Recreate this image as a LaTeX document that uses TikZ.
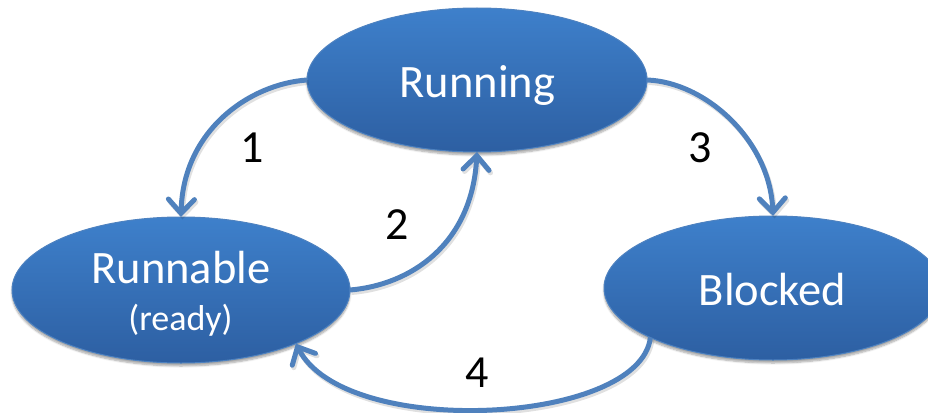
\documentclass[tikz,border=0pt]{standalone}
\usepackage{fontspec}
\setmainfont{Carlito}
\usetikzlibrary{arrows.meta,shapes.geometric,shadows.blur}

\definecolor{statetop}{RGB}{62,128,203}
\definecolor{statebot}{RGB}{45,95,162}
\definecolor{stateedge}{RGB}{78,130,192}
\definecolor{flow}{RGB}{79,129,189}

\tikzset{
  state/.style={ellipse, inner sep=0pt, outer sep=0pt,
    top color=statetop, bottom color=statebot, draw=stateedge, line width=1pt,
    blur shadow={shadow xshift=0pt, shadow yshift=-3pt, shadow blur steps=6, shadow opacity=35}},
  statetext/.style={anchor=base, text=white, font=\fontsize{46.5}{50}\selectfont},
  subtext/.style={anchor=base, text=white, font=\fontsize{36}{40}\selectfont},
  steplabel/.style={anchor=base, text=black, font=\fontsize{46}{50}\selectfont},
  transition/.style={draw=flow, line width=5pt,
    -{Straight Barb[length=14pt, width=26pt, line cap=round]},
    preaction={draw=black, opacity=0.12, line width=5pt,
      transform canvas={shift={(1.5pt,-2.5pt)}}}}
}

\begin{document}
\begin{tikzpicture}[x=1pt, y=-1pt]
  \useasboundingbox (0,0) rectangle (928,412);
  \clip (0,0) rectangle (928,412);

  % states
  \node[state, minimum width=340pt, minimum height=144pt] (running) at (477,80) {};
  \node[state, minimum width=338pt, minimum height=146pt] (runnable) at (181,290) {};
  \node[state, minimum width=338pt, minimum height=144pt] (blocked) at (773,288) {};

  % state names
  \node[statetext] (runningtxt) at (477.5,97) {Running};
  \node[statetext] (runnabletxt) at (181,283) {Runnable};
  \node[subtext] (readytxt) at (180.5,330) {(ready)};
  \node[statetext] (blockedtxt) at (772.5,305) {Blocked};

  % transitions
  \draw[transition] (running.180) .. controls (250,84) and (183,130) .. (runnable.90);
  \draw[transition] (runnable.0) .. controls (410,285) and (472,245) .. (running.-90);
  \draw[transition] (running.0) .. controls (705,82) and (770,140) .. (blocked.90);
  \draw[transition] (blocked.202) .. controls (640,425) and (345,440) .. (runnable.-25);

  % transition numbers
  \node[steplabel] (n1) at (252,162) {1};
  \node[steplabel] (n2) at (397,239) {2};
  \node[steplabel] (n3) at (700,162) {3};
  \node[steplabel] (n4) at (477,387) {4};
\end{tikzpicture}
\end{document}
